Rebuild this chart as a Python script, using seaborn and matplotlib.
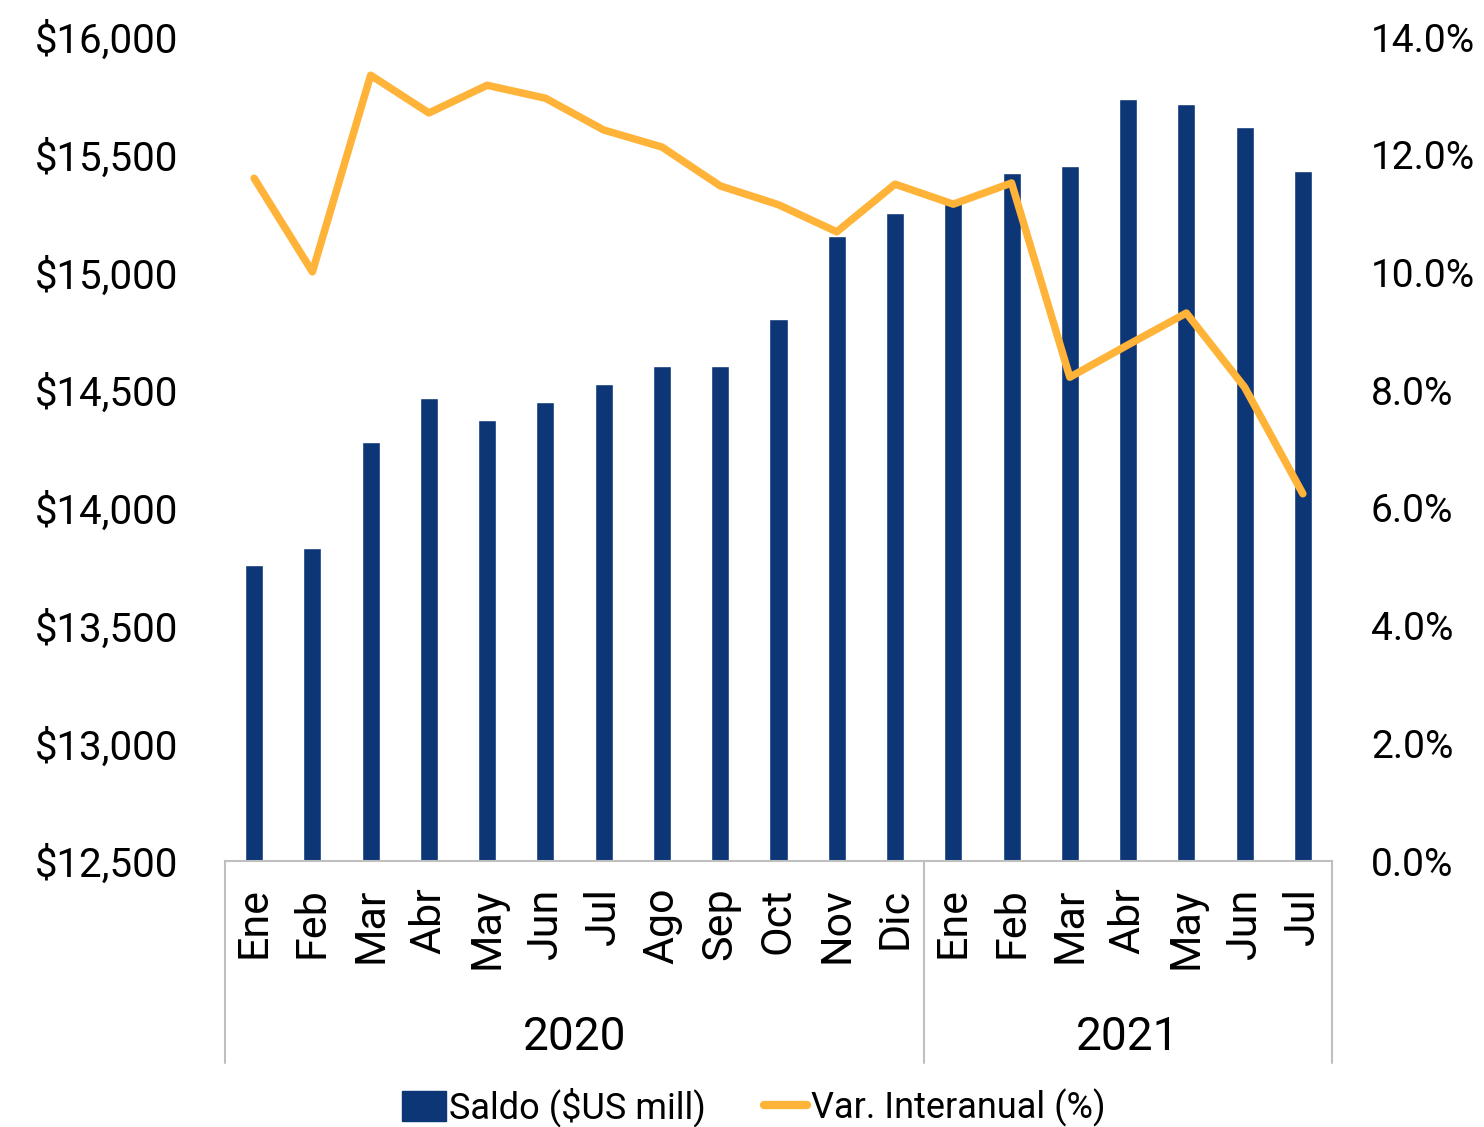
import matplotlib
matplotlib.use("Agg")
import matplotlib.pyplot as plt
import matplotlib.transforms as mtransforms
from matplotlib.ticker import FuncFormatter, MultipleLocator
from matplotlib.patches import Patch
from matplotlib.lines import Line2D
import seaborn as sns
import pandas as pd

months = ["Ene", "Feb", "Mar", "Abr", "May", "Jun", "Jul", "Ago", "Sep", "Oct", "Nov", "Dic",
          "Ene", "Feb", "Mar", "Abr", "May", "Jun", "Jul"]
years = ["2020"] * 12 + ["2021"] * 7
saldo = [13757, 13830, 14280, 14467, 14373, 14450, 14526, 14603, 14603, 14802, 15155, 15252,
         15308, 15422, 15452, 15737, 15715, 15618, 15431]
var_interanual = [11.60, 10.01, 13.35, 12.71, 13.18, 12.96, 12.42, 12.13, 11.47, 11.15, 10.69, 11.50,
                  11.16, 11.52, 8.22, 8.77, 9.31, 8.05, 6.24]

sns.set_theme(style="white")
plt.rcParams['font.family'] = ['Roboto', 'DejaVu Sans']
plt.rcParams['text.color'] = 'black'
plt.rcParams['xtick.color'] = 'black'
plt.rcParams['ytick.color'] = 'black'

NAVY = "#0D3677"
ORANGE = "#FFB338"
FS = 29

df = pd.DataFrame({"key": [f"{m}-{y}" for m, y in zip(months, years)],
                   "pos": range(len(months)), "saldo": saldo, "var": var_interanual})

fig = plt.figure(figsize=(14.84, 11.27), dpi=100)
ax = fig.add_axes([225/1484, 1 - 861/1127, (1332-225)/1484, (861-37)/1127])

sns.barplot(data=df, x="key", y="saldo", color=NAVY, width=0.31, ax=ax, saturation=1)
ax.set_ylim(12500, 16000)
ax.set_xlim(-0.5, len(months) - 0.5)
ax.yaxis.set_major_locator(MultipleLocator(500))
ax.yaxis.set_major_formatter(FuncFormatter(lambda v, p: f"${v:,.0f}"))
ax.set_xticks(range(len(months)))
ax.set_xticklabels(months, rotation=90, fontsize=31)
ax.tick_params(axis='x', length=0, pad=19, labelcolor='black')
ax.tick_params(axis='y', length=0, pad=34, labelsize=FS, labelcolor='black')
ax.set_xlabel("")
ax.set_ylabel("")
for s in ["top", "right", "left"]:
    ax.spines[s].set_visible(False)
ax.spines["bottom"].set_color("#BFBFBF")
ax.spines["bottom"].set_linewidth(1.5)

ax2 = ax.twinx()
sns.lineplot(data=df, x="pos", y="var", color=ORANGE, linewidth=5.4, ax=ax2,
             solid_joinstyle='round', solid_capstyle='round')
ax2.set_ylim(0, 14)
ax2.yaxis.set_major_locator(MultipleLocator(2))
ax2.yaxis.set_major_formatter(FuncFormatter(lambda v, p: f"{v:.1f}%"))
ax2.tick_params(axis='y', length=0, pad=28, labelsize=28, labelcolor='black')
ax2.set_ylabel("")
ax2.set_xlabel("")
for s in ["top", "right", "left", "bottom"]:
    ax2.spines[s].set_visible(False)
ax2.set_xlim(-0.5, len(months) - 0.5)

# group separators and year labels
trans = mtransforms.blended_transform_factory(ax.transData, ax.transAxes)
ybot = -(1063 - 861) / 824
for xb in [-0.5, 11.5, len(months) - 0.5]:
    ax.plot([xb, xb], [0, ybot], transform=trans, color="#BFBFBF", lw=1.5, clip_on=False)
yyear = -(1037 - 861) / 824
ax.text(5.5, yyear, "2020", transform=trans, ha="center", va="center", fontsize=33)
ax.text(15.0, yyear, "2021", transform=trans, ha="center", va="center", fontsize=33)

handles = [Patch(facecolor=NAVY, edgecolor=NAVY),
           Line2D([0], [0], color=ORANGE, lw=6, solid_capstyle='round')]
fig.legend(handles, ["Saldo ($US mill)", "Var. Interanual (%)"], loc="center",
           bbox_to_anchor=(0.508, 1 - 1107/1127), ncol=2, frameon=False, fontsize=26,
           handlelength=1.2, handletextpad=0.1, columnspacing=1.6, handleheight=0.9)

fig.savefig("out.png", dpi=100)
